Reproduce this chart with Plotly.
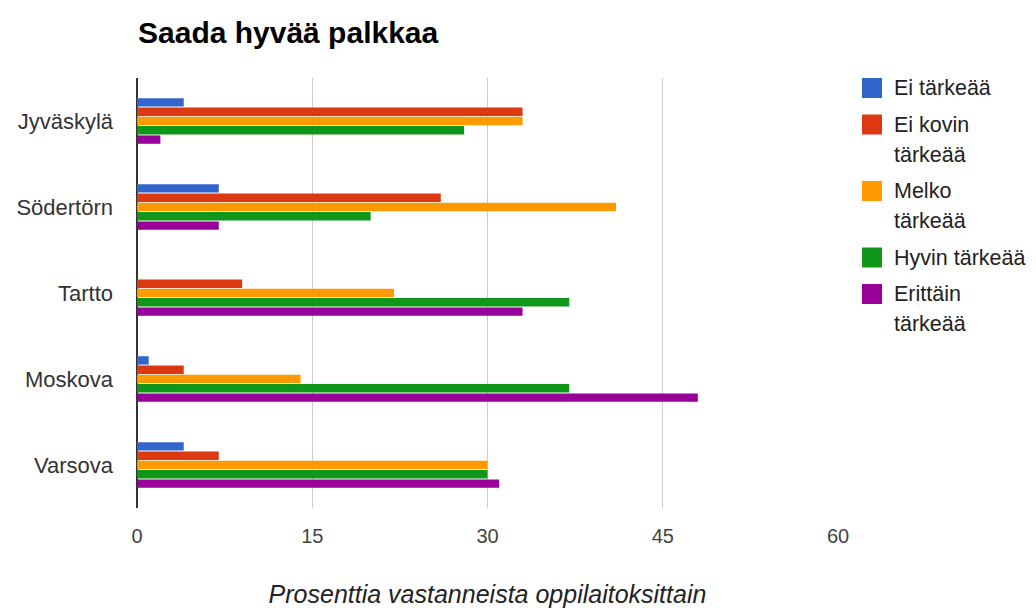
import plotly.graph_objects as go

categories = ["Jyväskylä", "Södertörn", "Tartto", "Moskova", "Varsova"]
series_names = ["Ei tärkeää", "Ei kovin tärkeää", "Melko tärkeää", "Hyvin tärkeää", "Erittäin tärkeää"]
legend_lines = [["Ei tärkeää"], ["Ei kovin", "tärkeää"], ["Melko", "tärkeää"], ["Hyvin tärkeää"], ["Erittäin", "tärkeää"]]
ei_tarkeaa = [4, 7, 0, 1, 4]
ei_kovin = [33, 26, 9, 4, 7]
melko = [33, 41, 22, 14, 30]
hyvin = [28, 20, 37, 37, 30]
erittain = [2, 7, 33, 48, 31]
colors = ["#3366cc", "#dc3912", "#ff9900", "#109618", "#990099"]
x_ticks = [0, 15, 30, 45, 60]

W, H = 1036, 608
L, R, T, B = 137, 198, 78, 100
pw, ph = W - L - R, H - T - B

def px_x(p):
    return (p - L) / pw

def px_y(p):
    return 1 - (p - T) / ph

fig = go.Figure()
for name, vals, col in zip(series_names, [ei_tarkeaa, ei_kovin, melko, hyvin, erittain], colors):
    fig.add_trace(go.Bar(y=categories, x=vals, name=name, orientation="h",
                         marker=dict(color=col, line=dict(width=0)), showlegend=False))

# manual legend (wrapped text, large swatches)
shapes = []
annotations = []
line_h = 30
item_gap = 36.5
y = 88
for lines, col in zip(legend_lines, colors):
    shapes.append(dict(type="rect", xref="paper", yref="paper",
                       x0=px_x(862), x1=px_x(882), y0=px_y(y - 10), y1=px_y(y + 10),
                       fillcolor=col, line=dict(width=0)))
    for i, txt in enumerate(lines):
        annotations.append(dict(text=txt, xref="paper", yref="paper",
                                x=px_x(892), y=px_y(y + i * line_h), xanchor="left", yanchor="middle",
                                showarrow=False, font=dict(size=21.5, color="#222")))
    y += (len(lines) - 1) * line_h + item_gap

fig.update_layout(
    width=W, height=H,
    barmode="group", bargap=0.46, bargroupgap=0.1,
    paper_bgcolor="white", plot_bgcolor="white",
    margin=dict(l=L, r=R, t=T, b=B),
    font=dict(family="Liberation Sans, Arial, sans-serif", color="#444", size=20),
    title=dict(text="<b>Saada hyvää palkkaa</b>", x=138/W, xanchor="left",
               y=1-32/H, yanchor="middle", font=dict(size=30, color="#000")),
    showlegend=False,
    shapes=shapes,
    annotations=annotations,
)
fig.update_xaxes(range=[0, 60], tickvals=x_ticks, showgrid=True, gridcolor="#cccccc", gridwidth=1,
                 zeroline=True, zerolinecolor="#333", zerolinewidth=1.5,
                 ticklabelstandoff=14, tickfont=dict(size=20, color="#444"),
                 title=dict(text="<i>Prosenttia vastanneista oppilaitoksittain</i>", standoff=45,
                            font=dict(size=25, color="#222")),
                 showline=False, automargin=False)
fig.update_yaxes(autorange="reversed", showgrid=False, ticklabelstandoff=23,
                 tickfont=dict(size=22, color="#333"), showline=False, automargin=False)

fig.write_html("out.html", config={"displayModeBar": False},
               post_script="document.body.style.margin='0';document.body.style.overflow='hidden';")
